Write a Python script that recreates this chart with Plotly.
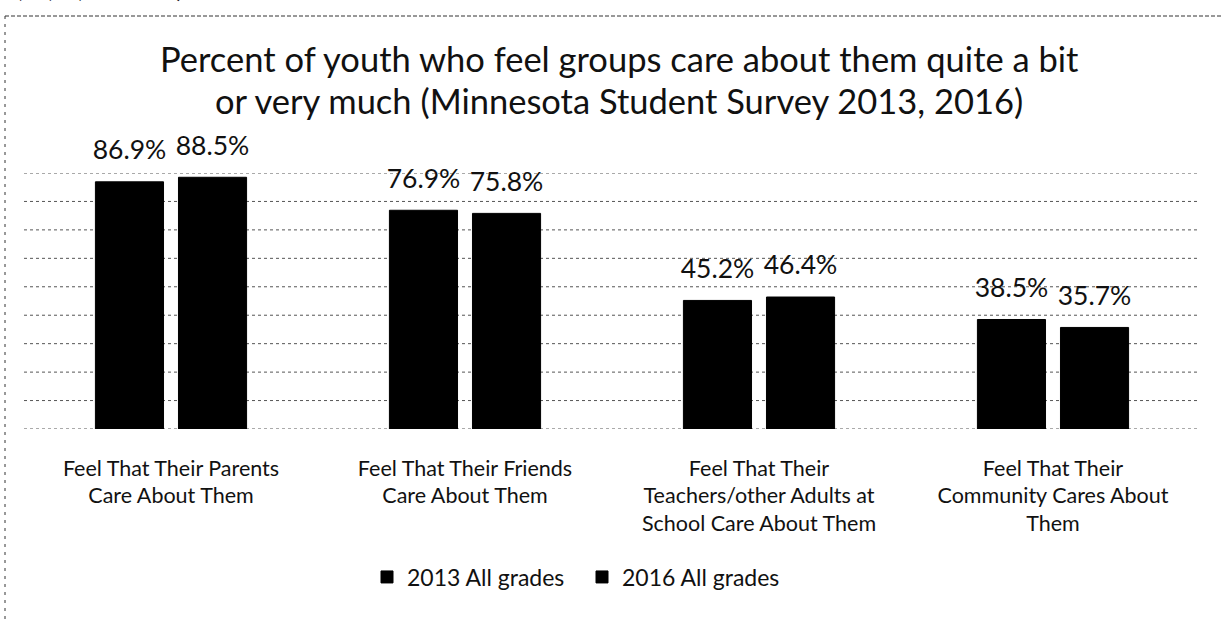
import plotly.graph_objects as go

# Survey categories and results (percent)
categories = [
    "Feel That Their Parents<br>Care About Them",
    "Feel That Their Friends<br>Care About Them",
    "Feel That Their<br>Teachers/other Adults at<br>School Care About Them",
    "Feel That Their<br>Community Cares About<br>Them",
]
series_names = ["2013 All grades", "2016 All grades"]
values_2013 = [86.9, 76.9, 45.2, 38.5]
values_2016 = [88.5, 75.8, 46.4, 35.7]
grid_values = [0, 10, 20, 30, 40, 50, 60, 70, 80, 90]

FONT = "Lato"
W, H = 1221, 622
M_L, M_R, M_T, M_B = 24, 21, 173, 193
PH = H - M_T - M_B
PW = W - M_L - M_R


def py(pix):
    """paper y for a pixel row measured from the top of the figure"""
    return (H - M_B - pix) / PH


def px(pix):
    """paper x for a pixel column measured from the left of the figure"""
    return (pix - M_L) / PW


fig = go.Figure()

for name, vals, grp in [(series_names[0], values_2013, "a"), (series_names[1], values_2016, "b")]:
    fig.add_trace(go.Bar(
        x=categories, y=vals, name=name, offsetgroup=grp,
        marker=dict(color="#000000", line=dict(color="#000000", width=1)),
        hoverinfo="skip",
    ))

# value labels sitting above each bar
for vals, grp in [(values_2013, "a"), (values_2016, "b")]:
    fig.add_trace(go.Scatter(
        x=categories, y=vals, offsetgroup=grp, mode="markers+text",
        text=[f"{v:.1f}%" for v in vals], textposition="top center",
        textfont=dict(family=FONT, size=26.5, color="#111111"),
        marker=dict(size=24, opacity=0), showlegend=False, hoverinfo="skip",
        cliponaxis=False,
    ))

# dotted horizontal gridlines every 10 points, including the baseline and the top
for g in grid_values:
    fig.add_shape(type="line", layer="below", xref="paper", yref="y",
                  x0=0, x1=1, y0=g, y1=g,
                  line=dict(color="#555555", width=1, dash="dot"))

# overall heading, two lines
title_lines = [
    "Percent of youth who feel groups care about them quite a bit",
    "or very much (Minnesota Student Survey 2013, 2016)",
]
for line, row in zip(title_lines, [58, 100]):
    fig.add_annotation(
        text=line, xref="paper", yref="paper",
        x=px(619), y=py(row),
        xanchor="center", yanchor="middle", showarrow=False,
        font=dict(family=FONT, size=34.5, color="#111111"),
    )

# tail of the caption line above the chart frame
fig.add_annotation(
    text="5, 8, 9, and 11)", xref="paper", yref="paper",
    x=px(0), y=py(5),
    xanchor="left", yanchor="bottom", showarrow=False,
    font=dict(family=FONT, size=28, color="#111111"),
)

# dashed frame around the chart (top and left edges)
fig.add_shape(type="line", xref="paper", yref="paper", x0=px(5), x1=px(W), y0=py(16), y1=py(16),
              line=dict(color="#333333", width=1, dash="4px,2px"))
fig.add_shape(type="line", xref="paper", yref="paper", x0=px(5), x1=px(5), y0=py(16), y1=py(H),
              line=dict(color="#333333", width=1, dash="3px,5px"))

fig.update_layout(
    width=W, height=H,
    margin=dict(l=M_L, r=M_R, t=M_T, b=M_B, pad=0),
    paper_bgcolor="white", plot_bgcolor="white",
    barmode="group", bargap=0.435, bargroupgap=0.18,
    scattermode="group", scattergap=0.435,
    font=dict(family=FONT, color="#111111"),
    showlegend=True,
    legend=dict(
        orientation="h", x=px(582), xanchor="center",
        y=py(577), yanchor="middle",
        font=dict(family=FONT, size=23, color="#111111"),
        traceorder="normal", entrywidth=170,
    ),
    xaxis=dict(
        showline=False, ticks="", showgrid=False,
        tickfont=dict(family=FONT, size=21.5, color="#111111"),
        ticklabelstandoff=24,
    ),
    yaxis=dict(
        range=[0, 90], showticklabels=False, ticks="",
        showline=False, zeroline=False, showgrid=False,
    ),
)

fig.write_html("out.html")
